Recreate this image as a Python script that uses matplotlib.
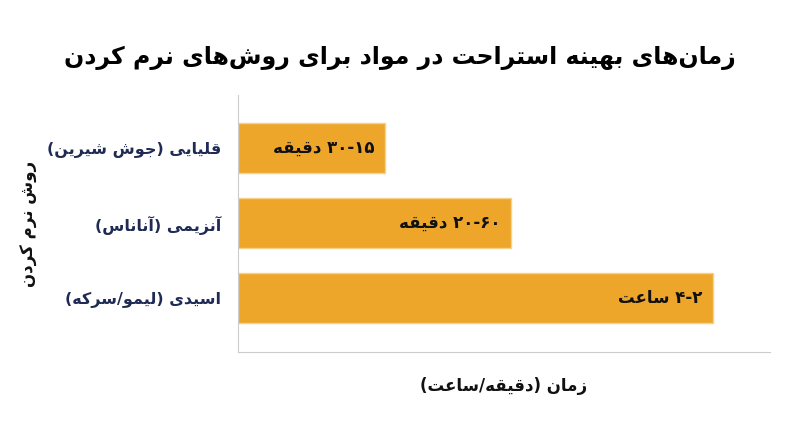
import matplotlib
matplotlib.use("Agg")
import matplotlib.pyplot as plt

# %% Data
categories = ["اسیدی (لیمو/سرکه)", "آنزیمی (آناناس)", "قلیایی (جوش شیرین)"]
bar_lengths = [10.0, 5.75, 3.1]
bar_texts = ["۲-۴ ساعت", "۶۰-۲۰ دقیقه", "۱۵-۳۰ دقیقه"]
title = "زمان\u200cهای بهینه استراحت در مواد برای روش\u200cهای نرم کردن"
xlabel = "زمان (دقیقه/ساعت)"
ylabel = "روش نرم کردن"

# %% Minimal Persian shaping (no reshaper library available)
# letter: (isolated, final, initial, medial); two-form letters only join to the right
FORMS = {
    "ا": (0xFE8D, 0xFE8E), "آ": (0xFE81, 0xFE82), "د": (0xFEA9, 0xFEAA),
    "ذ": (0xFEAB, 0xFEAC), "ر": (0xFEAD, 0xFEAE), "ز": (0xFEAF, 0xFEB0),
    "و": (0xFEED, 0xFEEE), "ژ": (0xFB8A, 0xFB8B),
    "ب": (0xFE8F, 0xFE90, 0xFE91, 0xFE92), "ت": (0xFE95, 0xFE96, 0xFE97, 0xFE98),
    "ج": (0xFE9D, 0xFE9E, 0xFE9F, 0xFEA0), "ح": (0xFEA1, 0xFEA2, 0xFEA3, 0xFEA4),
    "خ": (0xFEA5, 0xFEA6, 0xFEA7, 0xFEA8), "س": (0xFEB1, 0xFEB2, 0xFEB3, 0xFEB4),
    "ش": (0xFEB5, 0xFEB6, 0xFEB7, 0xFEB8), "ع": (0xFEC9, 0xFECA, 0xFECB, 0xFECC),
    "ف": (0xFED1, 0xFED2, 0xFED3, 0xFED4), "ق": (0xFED5, 0xFED6, 0xFED7, 0xFED8),
    "ل": (0xFEDD, 0xFEDE, 0xFEDF, 0xFEE0), "م": (0xFEE1, 0xFEE2, 0xFEE3, 0xFEE4),
    "ن": (0xFEE5, 0xFEE6, 0xFEE7, 0xFEE8), "ه": (0xFEE9, 0xFEEA, 0xFEEB, 0xFEEC),
    "ی": (0xFBFC, 0xFBFD, 0xFBFE, 0xFBFF), "ک": (0xFB8E, 0xFB8F, 0xFB90, 0xFB91),
}
DIGITS = set("۰۱۲۳۴۵۶۷۸۹0123456789")


def fa(text):
    chars = list(text)
    out = []
    for i, c in enumerate(chars):
        if c not in FORMS:
            out.append(c)
            continue
        prev = chars[i - 1] if i > 0 else ""
        nxt = chars[i + 1] if i + 1 < len(chars) else ""
        join_prev = prev in FORMS and len(FORMS[prev]) == 4
        join_next = len(FORMS[c]) == 4 and nxt in FORMS
        f = FORMS[c]
        if join_prev and join_next:
            idx = 3
        elif join_prev:
            idx = 1
        elif join_next:
            idx = 2
        else:
            idx = 0
        out.append(chr(f[idx]))
    s = "".join(ch for ch in out if ch != "\u200c")[::-1]
    s = s.translate(str.maketrans("()", ")("))
    # put digit runs back in left-to-right order
    res, run = "", ""
    for ch in s:
        if ch in DIGITS:
            run += ch
        else:
            res += run[::-1] + ch
            run = ""
    return res + run[::-1]


# %% Plot
plt.rcParams["font.family"] = ["DejaVu Sans"]
fig = plt.figure(figsize=(8, 4.47), dpi=100)
ax = fig.add_axes([0.2975, 0.2125, 0.665, 0.575])

ypos = range(len(categories))
ax.barh(ypos, bar_lengths, height=0.67, color="#EDA62A", edgecolor="#F7D08A", linewidth=1)
for y, v, t in zip(ypos, bar_lengths, bar_texts):
    ax.text(v - 0.22, y, fa(t), ha="right", va="center", fontsize=12, fontweight="bold", color="#111111")

ax.set_xlim(0, 11.2)
ax.set_ylim(-0.72, 2.71)
ax.set_yticks(list(ypos))
ax.set_yticklabels([fa(c) for c in categories], fontsize=11.5, fontweight="bold", color="#1F2B55")
ax.set_xticks([])
ax.tick_params(axis="y", length=0, pad=12)
for s in ["top", "right"]:
    ax.spines[s].set_visible(False)
for s in ["left", "bottom"]:
    ax.spines[s].set_color("#CCCCCC")

ax.set_xlabel(fa(xlabel), fontsize=12, fontweight="bold", labelpad=18, color="#111111")
ax.set_ylabel(fa(ylabel), fontsize=12, fontweight="bold", color="#111111")
ax.yaxis.set_label_coords(-0.375, 0.5)
fig.text(0.5, 0.87, fa(title), ha="center", va="center", fontsize=17, fontweight="bold")

fig.savefig("out.png", dpi=100)
